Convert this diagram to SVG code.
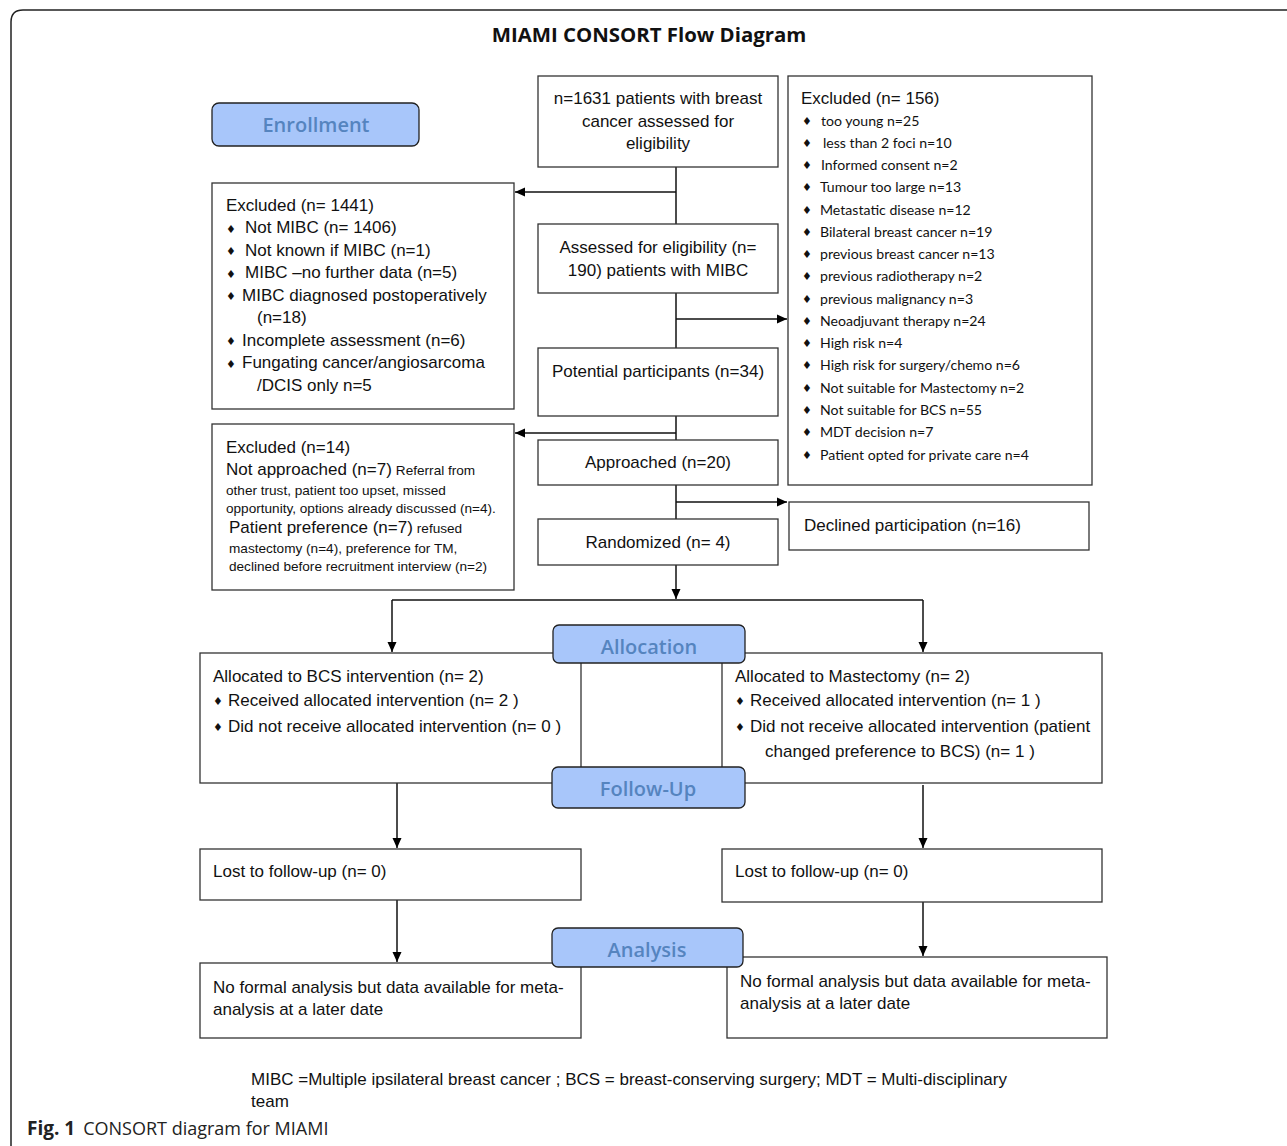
<svg xmlns="http://www.w3.org/2000/svg" width="1287" height="1146" viewBox="0 0 1287 1146">
<defs>
<marker id="ah" viewBox="0 0 10 10" refX="10" refY="5" markerWidth="10" markerHeight="10" markerUnits="userSpaceOnUse" orient="auto">
<path d="M0,0.5 L10,5 L0,9.5 z" fill="#000"/>
</marker>
<style>
.bx{fill:#fff;stroke:#333;stroke-width:1.3}
.st{fill:#a8c6fa;stroke:#222;stroke-width:1.3}
.stt{font-family:"Open Sans","Lato",sans-serif;font-size:20px;font-weight:600;fill:#5584bf;text-anchor:middle}
.t{font-family:"Liberation Sans",Arial,sans-serif;font-size:17px;fill:#111}
.tc{font-family:"Liberation Sans",Arial,sans-serif;font-size:17px;fill:#111;text-anchor:middle}
.s{font-family:"Liberation Sans",Arial,sans-serif;font-size:13.6px;fill:#111}
.c{font-family:"Lato","Open Sans",sans-serif;font-size:14.1px;fill:#111}
.b{font-family:"DejaVu Sans",sans-serif;font-size:11px;fill:#111}
.ln{fill:none;stroke:#111;stroke-width:1.5}
.arr{fill:none;stroke:#111;stroke-width:1.5;marker-end:url(#ah)}
</style>
</defs>
<rect width="1287" height="1146" fill="#fff"/>
<path d="M11,1146 V22 Q11,10 23,10 H1287" fill="none" stroke="#222" stroke-width="1.5"/>
<text x="649" y="42" text-anchor="middle" font-family="Open Sans, sans-serif" font-weight="700" font-size="20.4" fill="#111">MIAMI CONSORT Flow Diagram</text>

<g id="connectors">
<path class="ln" d="M676,167 V224"/>
<path class="arr" d="M676,192 H515"/>
<path class="ln" d="M676,293 V348"/>
<path class="arr" d="M676,319 H787"/>
<path class="ln" d="M676,416 V440"/>
<path class="arr" d="M676,433 H515"/>
<path class="ln" d="M676,485 V519"/>
<path class="arr" d="M676,502 H787"/>
<path class="arr" d="M676,565 V599"/>
<path class="ln" d="M392,600 H923"/>
<path class="arr" d="M392,600 V652"/>
<path class="arr" d="M923,600 V652"/>
<path class="arr" d="M397,783 V848"/>
<path class="arr" d="M923,785 V848"/>
<path class="arr" d="M397,900 V962"/>
<path class="arr" d="M923,902 V956"/>
</g>

<g id="enrollment"><rect class="st" x="212" y="103" width="207" height="43" rx="7"/><text class="stt" x="316" y="132">Enrollment</text></g>

<g id="assessed1631"><rect class="bx" x="538" y="76" width="240" height="91"/>
<text class="tc" x="658" y="104">n=1631 patients with breast</text>
<text class="tc" x="658" y="127">cancer assessed for</text>
<text class="tc" x="658" y="149">eligibility</text></g>

<g id="excluded156"><rect class="bx" x="788" y="76" width="304" height="409"/>
<text class="t" x="801" y="104">Excluded (n= 156)</text>
<g class="b">
<text x="802" y="125">♦</text><text x="802" y="147">♦</text><text x="802" y="169">♦</text><text x="802" y="191">♦</text>
<text x="802" y="214">♦</text><text x="802" y="236">♦</text><text x="802" y="258">♦</text><text x="802" y="280">♦</text>
<text x="802" y="303">♦</text><text x="802" y="325">♦</text><text x="802" y="347">♦</text><text x="802" y="369">♦</text>
<text x="802" y="392">♦</text><text x="802" y="414">♦</text><text x="802" y="436">♦</text><text x="802" y="459">♦</text>
</g>
<g class="c">
<text x="821" y="126">too young n=25</text>
<text x="823" y="148">less than 2 foci n=10</text>
<text x="821" y="170">Informed consent n=2</text>
<text x="820" y="192">Tumour too large n=13</text>
<text x="820" y="215">Metastatic disease n=12</text>
<text x="820" y="237">Bilateral breast cancer n=19</text>
<text x="820" y="259">previous breast cancer n=13</text>
<text x="820" y="281">previous radiotherapy n=2</text>
<text x="820" y="304">previous malignancy n=3</text>
<text x="820" y="326">Neoadjuvant therapy n=24</text>
<text x="820" y="348">High risk n=4</text>
<text x="820" y="370">High risk for surgery/chemo n=6</text>
<text x="820" y="393">Not suitable for Mastectomy n=2</text>
<text x="820" y="415">Not suitable for BCS n=55</text>
<text x="820" y="437">MDT decision n=7</text>
<text x="820" y="460">Patient opted for private care n=4</text>
</g></g>

<g id="excluded1441"><rect class="bx" x="212" y="183" width="302" height="226"/>
<text class="t" x="226" y="211">Excluded (n= 1441)</text>
<g class="b" font-size="10"><text x="226" y="233">♦</text><text x="226" y="255">♦</text><text x="226" y="278">♦</text><text x="226" y="300">♦</text><text x="226" y="345">♦</text><text x="226" y="368">♦</text></g>
<text class="t" x="245" y="233">Not MIBC (n= 1406)</text>
<text class="t" x="245" y="256">Not known if MIBC (n=1)</text>
<text class="t" x="245" y="278">MIBC –no further data (n=5)</text>
<text class="t" x="242" y="301">MIBC diagnosed postoperatively</text>
<text class="t" x="257" y="323">(n=18)</text>
<text class="t" x="242" y="346">Incomplete assessment (n=6)</text>
<text class="t" x="242" y="368">Fungating cancer/angiosarcoma</text>
<text class="t" x="257" y="391">/DCIS only n=5</text></g>

<g id="assessed190"><rect class="bx" x="538" y="224" width="240" height="69"/>
<text class="tc" x="658" y="253">Assessed for eligibility (n=</text>
<text class="tc" x="658" y="276">190) patients with MIBC</text></g>

<g id="potential"><rect class="bx" x="538" y="348" width="240" height="68"/>
<text class="tc" x="658" y="377">Potential participants (n=34)</text></g>

<g id="excluded14"><rect class="bx" x="212" y="424" width="302" height="166"/>
<text class="t" x="226" y="453">Excluded (n=14)</text>
<text class="t" x="226" y="475">Not approached (n=7)<tspan class="s" dx="4">Referral from</tspan></text>
<text class="s" x="226" y="495">other trust, patient too upset, missed</text>
<text class="s" x="226" y="513">opportunity, options already discussed (n=4).</text>
<text class="t" x="229" y="533">Patient preference (n=7)<tspan class="s" dx="4">refused</tspan></text>
<text class="s" x="229" y="553">mastectomy (n=4), preference for TM,</text>
<text class="s" x="229" y="571">declined before recruitment interview (n=2)</text></g>

<g id="approached"><rect class="bx" x="538" y="440" width="240" height="45"/>
<text class="tc" x="658" y="468">Approached (n=20)</text></g>

<g id="declined"><rect class="bx" x="789" y="502" width="300" height="48"/>
<text class="t" x="804" y="531">Declined participation (n=16)</text></g>

<g id="randomized"><rect class="bx" x="538" y="519" width="240" height="46"/>
<text class="tc" x="658" y="548">Randomized (n= 4)</text></g>

<g id="allocBCS"><rect class="bx" x="200" y="653" width="381" height="130"/>
<text class="t" x="213" y="682">Allocated to BCS intervention (n= 2)</text>
<text class="b" font-size="10" x="213" y="705">♦</text><text class="t" x="228" y="706">Received allocated intervention (n= 2 )</text>
<text class="b" font-size="10" x="213" y="731">♦</text><text class="t" x="228" y="732">Did not receive allocated intervention (n= 0 )</text></g>

<g id="allocMast"><rect class="bx" x="722" y="653" width="380" height="130"/>
<text class="t" x="735" y="682">Allocated to Mastectomy (n= 2)</text>
<text class="b" font-size="10" x="735" y="705">♦</text><text class="t" x="750" y="706">Received allocated intervention (n= 1 )</text>
<text class="b" font-size="10" x="735" y="731">♦</text><text class="t" x="750" y="732">Did not receive allocated intervention (patient</text>
<text class="t" x="765" y="757">changed preference to BCS) (n= 1 )</text></g>

<g id="allocation"><rect class="st" x="553" y="625" width="192" height="38" rx="6"/><text class="stt" x="649" y="654">Allocation</text></g>
<g id="followup"><rect class="st" x="552" y="767" width="193" height="41" rx="6"/><text class="stt" x="648" y="796">Follow-Up</text></g>

<g id="lostBCS"><rect class="bx" x="200" y="849" width="381" height="51"/>
<text class="t" x="213" y="877">Lost to follow-up (n= 0)</text></g>
<g id="lostMast"><rect class="bx" x="722" y="849" width="380" height="53"/>
<text class="t" x="735" y="877">Lost to follow-up (n= 0)</text></g>

<g id="analysisBCS"><rect class="bx" x="200" y="963" width="381" height="75"/>
<text class="t" x="213" y="993">No formal analysis but data available for meta-</text>
<text class="t" x="213" y="1015">analysis at a later date</text></g>
<g id="analysisMast"><rect class="bx" x="727" y="957" width="380" height="81"/>
<text class="t" x="740" y="987">No formal analysis but data available for meta-</text>
<text class="t" x="740" y="1009">analysis at a later date</text></g>

<g id="analysis"><rect class="st" x="552" y="928" width="191" height="39" rx="6"/><text class="stt" x="647" y="957">Analysis</text></g>

<text class="t" x="251" y="1085">MIBC =Multiple ipsilateral breast cancer ; BCS = breast-conserving surgery; MDT = Multi-disciplinary</text>
<text class="t" x="251" y="1107">team</text>
<text x="27" y="1135" font-family="Open Sans, sans-serif" font-size="19" fill="#222"><tspan font-weight="700">Fig. 1</tspan><tspan dx="8" font-size="18">CONSORT diagram for MIAMI</tspan></text>
</svg>
